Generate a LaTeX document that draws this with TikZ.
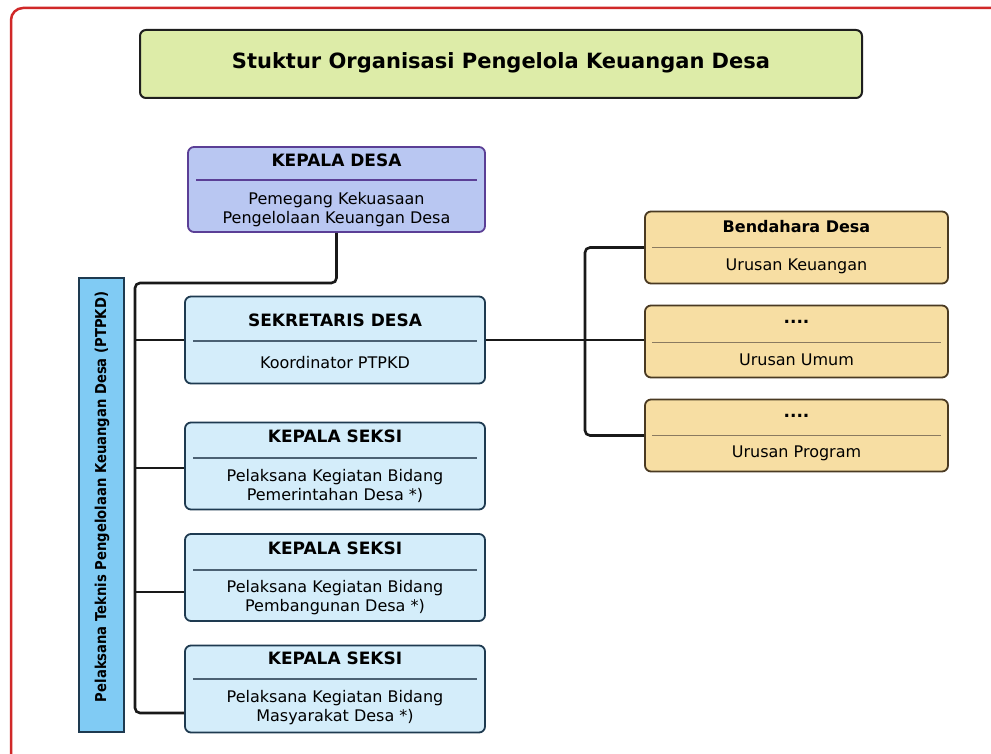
\documentclass[tikz,border=0pt]{standalone}
\usepackage{fontspec}
\setmainfont{DejaVu Sans}
\newfontfamily\barfont[FakeStretch=0.88]{DejaVu Sans}

\definecolor{framered}{HTML}{D02828}
\definecolor{titlefill}{HTML}{DDECA8}
\definecolor{titleline}{HTML}{1E1E1E}
\definecolor{kdfill}{HTML}{B9C7F2}
\definecolor{kdline}{HTML}{5B3F96}
\definecolor{sdfill}{HTML}{D4EDFA}
\definecolor{sdline}{HTML}{1E3A50}
\definecolor{rfill}{HTML}{F7DEA3}
\definecolor{rline}{HTML}{4A3A22}
\definecolor{rsep}{HTML}{8A7A60}
\definecolor{barfill}{HTML}{80CBF4}

\begin{document}
\begin{tikzpicture}[x=1pt,y=-1pt,
  boxbase/.style={draw, rounded corners=6pt, line width=1.8pt, inner sep=0pt},
  titlebox/.style={boxbase, draw=titleline, fill=titlefill, line width=2pt, minimum width=722pt, minimum height=68pt},
  kdbox/.style={boxbase, draw=kdline, fill=kdfill, minimum width=297pt, minimum height=85pt},
  sdbox/.style={boxbase, draw=sdline, fill=sdfill, minimum width=300pt, minimum height=87pt},
  rbox/.style={boxbase, draw=rline, fill=rfill, minimum width=303pt, minimum height=72pt},
  head/.style={font=\bfseries\fontsize{17}{20}\selectfont, inner sep=0pt},
  body/.style={font=\fontsize{16}{19}\selectfont, align=center, inner sep=0pt},
  kdsep/.style={draw=kdline, line width=1.4pt},
  sdsep/.style={draw=sdline!80, line width=1.3pt},
  rsepl/.style={draw=rsep, line width=1pt},
  wire/.style={line width=2.6pt, draw=black!90, rounded corners=5pt}]

\useasboundingbox (0,0) rectangle (991,754);
\fill[white] (0,0) rectangle (991,754);

% frame
\draw[framered, line width=2.5pt, rounded corners=12pt] (11,780) |- (1010,8);

% title
\node[titlebox] (title) at (501,64) {};
\node[font=\bfseries\fontsize{21}{24}\selectfont, inner sep=0pt] (titletext) at (501,63) {Stuktur Organisasi Pengelola Keuangan Desa};

% side bar
\node[draw=sdline, fill=barfill, line width=1.5pt, minimum width=45pt, minimum height=454pt, inner sep=0pt] (bar) at (101.5,505) {};
\node[rotate=90, font=\barfont\bfseries\fontsize{15}{17}\selectfont, inner sep=0pt] (bartext) at (102,497) {Pelaksana Teknis Pengelolaan Keuangan Desa (PTPKD)};

% Kepala Desa
\node[kdbox] (kd) at (336.5,189.5) {};
\node[head] (kdh) at (336.5,160) {KEPALA DESA};
\draw[kdsep] (196,180) -- (477,180);
\node[body] (kdb) at (336.5,210) {Pemegang Kekuasaan\\Pengelolaan Keuangan Desa};

% Sekretaris Desa
\node[sdbox] (sd) at (335,340) {};
\node[head] (sdh) at (335,320) {SEKRETARIS DESA};
\draw[sdsep] (193,341) -- (477,341);
\node[body] (sdb) at (335,363) {Koordinator PTPKD};

% Kepala Seksi 1
\node[sdbox] (ks1) at (335,466) {};
\node[head] (ks1h) at (335,436) {KEPALA SEKSI};
\draw[sdsep] (193,458) -- (477,458);
\node[body] (ks1b) at (335,486) {Pelaksana Kegiatan Bidang\\Pemerintahan Desa *)};

% Kepala Seksi 2
\node[sdbox] (ks2) at (335,577.5) {};
\node[head] (ks2h) at (335,548) {KEPALA SEKSI};
\draw[sdsep] (193,570) -- (477,570);
\node[body] (ks2b) at (335,598) {Pelaksana Kegiatan Bidang\\Pembangunan Desa *)};

% Kepala Seksi 3
\node[sdbox] (ks3) at (335,689) {};
\node[head] (ks3h) at (335,658) {KEPALA SEKSI};
\draw[sdsep] (193,679) -- (477,679);
\node[body] (ks3b) at (335,708) {Pelaksana Kegiatan Bidang\\Masyarakat Desa *)};

% right boxes
\node[rbox] (r1) at (796.5,247.5) {};
\node[head, font=\bfseries\fontsize{16}{19}\selectfont] (r1h) at (796.5,227) {Bendahara Desa};
\draw[rsepl] (652,248) -- (941,248);
\node[body] (r1b) at (796.5,266) {Urusan Keuangan};

\node[rbox] (r2) at (796.5,341.5) {};
\node[head] (r2h) at (796.5,322) {....};
\draw[rsepl] (652,342) -- (941,342);
\node[body] (r2b) at (796.5,360) {Urusan Umum};

\node[rbox] (r3) at (796.5,435.5) {};
\node[head] (r3h) at (796.5,416) {....};
\draw[rsepl] (652,435) -- (941,435);
\node[body] (r3b) at (796.5,453) {Urusan Program};

% left connectors
\coordinate (jtop) at (135,283);
\coordinate (jbot) at (135,713);
\coordinate (j1) at (135,468);
\coordinate (j2) at (135,592);
\draw[wire] (kd.south) |- (jtop) -- (jbot) -- (jbot -| ks3.west);
\draw[wire] (jtop |- sd.west) -- (sd.west);
\draw[wire] (j1) -- (j1 -| ks1.west);
\draw[wire] (j2) -- (j2 -| ks2.west);

% right connectors
\coordinate (rmid) at (585,341);
\draw[wire] (r1.west) -| (rmid) |- (r3.west);
\draw[wire] (sd.east) -- (sd.east -| r2.west);
\end{tikzpicture}
\end{document}
